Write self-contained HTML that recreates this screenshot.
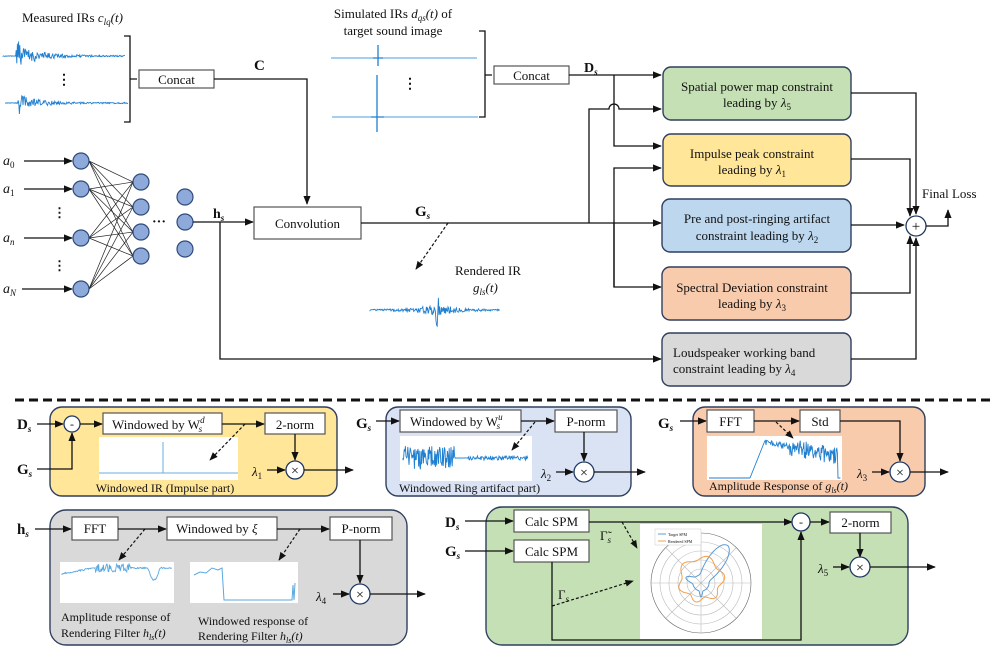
<!DOCTYPE html>
<html><head><meta charset="utf-8"><style>
html,body{margin:0;padding:0;background:#fff}
svg{display:block}
text{font-family:"Liberation Serif",serif;fill:#111}
.b{fill:#fff;stroke:#555;stroke-width:1.2}
.l{stroke:#111;stroke-width:1.3;fill:none}
.d{stroke:#111;stroke-width:1.2;fill:none;stroke-dasharray:3,2}
.nn{fill:#8eaadb;stroke:#2f4a7a;stroke-width:1.2}
.w{fill:none;stroke:#1f7fd0;stroke-width:0.9}
.c{fill:#fff;stroke:#1f3864;stroke-width:1.3}
</style></head><body>
<svg width="997" height="658" viewBox="0 0 997 658" xmlns="http://www.w3.org/2000/svg">
<defs>
<marker id="a" viewBox="0 0 10 10" refX="9" refY="5" markerWidth="7" markerHeight="7" orient="auto"><path d="M0,1 L10,5 L0,9z" fill="#111"/></marker>
</defs>

<!-- top labels -->
<text x="22" y="22" font-size="13">Measured IRs <tspan font-style="italic">c<tspan font-size="9" dy="3">lq</tspan><tspan dy="-3">(t)</tspan></tspan></text>
<path id="w1" class="w" d=""/><path id="w2" class="w" d=""/>
<text x="57" y="84" font-size="14" font-weight="bold">⋮</text>
<path class="l" d="M124,36 H130 V122 H124 M130,79 H137"/>
<rect class="b" x="139" y="70" width="75" height="18"/>
<text x="176.5" y="84" font-size="13" text-anchor="middle">Concat</text>
<path class="l" d="M214,79 H307 V204" marker-end="url(#a)"/>
<text x="254" y="70" font-size="15" font-weight="bold">C</text>

<text x="393" y="18" font-size="13" text-anchor="middle">Simulated IRs <tspan font-style="italic">d<tspan font-size="9" dy="3">qs</tspan><tspan dy="-3">(t)</tspan></tspan> of</text>
<text x="393" y="35" font-size="13" text-anchor="middle">target sound image</text>
<path d="M331,58 H477 M332,117 H478" stroke="#4aa0e0" stroke-width="1"/>
<path d="M378,45 V66 M373,58 H383 M377,75 V132 M371,117 H384" stroke="#1f7fd0" stroke-width="1.3"/>
<text x="403" y="88" font-size="14" font-weight="bold">⋮</text>
<path class="l" d="M479,31 H485 V117 H479 M485,75 H492"/>
<rect class="b" x="494" y="66" width="75" height="18"/>
<text x="531.5" y="80" font-size="13" text-anchor="middle">Concat</text>
<text x="584" y="72" font-size="14" font-weight="bold">D<tspan font-size="9" dy="3" font-style="italic">s</tspan></text>

<!-- NN -->
<g font-size="14" font-style="italic">
<text x="3" y="165">a<tspan font-size="9" dy="3" font-style="normal">0</tspan></text>
<text x="3" y="193">a<tspan font-size="9" dy="3" font-style="normal">1</tspan></text>
<text x="3" y="242">a<tspan font-size="9" dy="3" font-style="italic">n</tspan></text>
<text x="3" y="293">a<tspan font-size="9" dy="3">N</tspan></text>
</g>
<text x="53" y="217" font-size="13" font-weight="bold">⋮</text>
<text x="53" y="270" font-size="13" font-weight="bold">⋮</text>
<g class="l" marker-end="url(#a)">
<path d="M24,161 H72"/><path d="M24,189 H72"/><path d="M24,238 H72"/><path d="M22,289 H72"/>
</g>
<g id="edges" stroke="#222" stroke-width="0.7"></g>
<g id="nodes"></g>
<text x="152" y="226" font-size="14" font-weight="bold">···</text>
<path class="l" d="M193,222 H253" marker-end="url(#a)"/>
<path class="l" d="M220,222 V359 H661" marker-end="url(#a)"/>
<text x="213" y="218" font-size="14" font-weight="bold">h<tspan font-size="9" dy="3" font-style="italic">s</tspan></text>
<rect class="b" x="254" y="207" width="107" height="32"/>
<text x="307.5" y="228" font-size="13" text-anchor="middle">Convolution</text>
<path class="l" d="M361,223 H661" marker-end="url(#a)"/>
<text x="415" y="216" font-size="15" font-weight="bold">G<tspan font-size="9" dy="3" font-style="italic">s</tspan></text>
<path class="d" d="M448,223 L416,269" marker-end="url(#a)"/>
<text x="455" y="275" font-size="13">Rendered IR</text>
<text x="473" y="292" font-size="13" font-style="italic">g<tspan font-size="9" dy="3">ls</tspan><tspan dy="-3">(t)</tspan></text>
<path id="r1" class="w" d=""/>

<!-- routing -->
<path class="l" d="M569,75 H661" marker-end="url(#a)"/>
<path class="l" d="M614,75 V146 H661" marker-end="url(#a)"/>
<path class="l" d="M589,223 V109 H609 A5,5 0 0 1 619,109 H661" marker-end="url(#a)"/>
<path class="l" d="M614,287 V168 H661" marker-end="url(#a)"/>
<path class="l" d="M614,223 V287 H661" marker-end="url(#a)"/>

<!-- constraint boxes -->
<g stroke="#2f3f5f" stroke-width="1.4">
<rect x="663" y="67" width="188" height="53" rx="8" fill="#c5e0b4"/>
<rect x="663" y="134" width="188" height="52" rx="8" fill="#ffe699"/>
<rect x="662" y="199" width="189" height="53" rx="8" fill="#bdd7ee"/>
<rect x="662" y="267" width="189" height="53" rx="8" fill="#f8cbad"/>
<rect x="662" y="333" width="189" height="53" rx="8" fill="#d9d9d9"/>
</g>
<g font-size="13" text-anchor="middle">
<text x="757" y="91">Spatial power map constraint</text>
<text x="757" y="107">leading by <tspan font-style="italic">λ</tspan><tspan font-size="9" dy="3">5</tspan></text>
<text x="752" y="158">Impulse peak constraint</text>
<text x="752" y="174">leading by <tspan font-style="italic">λ</tspan><tspan font-size="9" dy="3">1</tspan></text>
<text x="757" y="223">Pre and post-ringing artifact</text>
<text x="757" y="240">constraint leading by <tspan font-style="italic">λ</tspan><tspan font-size="9" dy="3">2</tspan></text>
<text x="752" y="292">Spectral Deviation constraint</text>
<text x="752" y="308">leading by <tspan font-style="italic">λ</tspan><tspan font-size="9" dy="3">3</tspan></text>
</g>
<text x="673" y="357" font-size="13">Loudspeaker working band</text>
<text x="673" y="373" font-size="13">constraint leading by <tspan font-style="italic">λ</tspan><tspan font-size="9" dy="3">4</tspan></text>

<path class="l" d="M851,93 H916 V214" marker-end="url(#a)"/>
<path class="l" d="M851,159 H910 V216" marker-end="url(#a)"/>
<path class="l" d="M851,225 H904" marker-end="url(#a)"/>
<path class="l" d="M851,293 H910 V236" marker-end="url(#a)"/>
<path class="l" d="M851,359 H916 V238" marker-end="url(#a)"/>
<circle class="c" cx="916" cy="226" r="10"/>
<text x="916" y="231" font-size="15" text-anchor="middle">+</text>
<path class="l" d="M926,226 H948 V210" marker-end="url(#a)"/>
<text x="922" y="198" font-size="13">Final Loss</text>

<!-- separator -->
<path d="M15,400 H992" stroke="#111" stroke-width="3" stroke-dasharray="9,5"/>

<!-- yellow -->
<rect x="50" y="407" width="287" height="89" rx="12" fill="#ffe699" stroke="#2f3f5f" stroke-width="1.4"/>
<text x="17" y="429" font-size="15" font-weight="bold">D<tspan font-size="9" dy="3" font-style="italic">s</tspan></text>
<text x="17" y="474" font-size="15" font-weight="bold">G<tspan font-size="9" dy="3" font-style="italic">s</tspan></text>
<path class="l" d="M37,424 H63" marker-end="url(#a)"/>
<path class="l" d="M37,469 H72 V433" marker-end="url(#a)"/>
<circle class="c" cx="72" cy="424" r="8"/><text x="72" y="428" font-size="12" text-anchor="middle">-</text>
<path class="l" d="M80,424 H102" marker-end="url(#a)"/>
<rect class="b" x="103" y="413" width="119" height="21"/>
<text x="112" y="429" font-size="13">Windowed by W<tspan font-size="9" dy="-6" font-style="italic">d</tspan><tspan font-size="9" dy="9" dx="-6" font-style="italic">s</tspan></text>
<rect class="b" x="265" y="413" width="60" height="21"/>
<text x="295" y="429" font-size="13" text-anchor="middle">2-norm</text>
<path class="l" d="M222,424 H264" marker-end="url(#a)"/>
<rect x="99" y="437" width="139" height="43" fill="#fff"/>
<path d="M99,473 H238 M163,473 V442" stroke="#6aaee0" stroke-width="1"/>
<path class="d" d="M245,424 L210,460" marker-end="url(#a)"/>
<text x="165" y="492" font-size="12" text-anchor="middle">Windowed IR (Impulse part)</text>
<path class="l" d="M295,434 V460" marker-end="url(#a)"/>
<text x="252" y="476" font-size="13" font-style="italic">λ<tspan font-size="9" dy="3" font-style="normal">1</tspan></text>
<path class="l" d="M267,470 H285" marker-end="url(#a)"/>
<circle class="c" cx="295" cy="470" r="9"/><text x="295" y="475" font-size="14" text-anchor="middle">×</text>
<path class="l" d="M304,470 H353" marker-end="url(#a)"/>

<!-- blue -->
<rect x="386" y="407" width="245" height="89" rx="12" fill="#dae3f3" stroke="#2f3f5f" stroke-width="1.4"/>
<text x="356" y="428" font-size="15" font-weight="bold">G<tspan font-size="9" dy="3" font-style="italic">s</tspan></text>
<path class="l" d="M376,421 H399" marker-end="url(#a)"/>
<rect class="b" x="400" y="410" width="121" height="22"/>
<text x="410" y="426" font-size="13">Windowed by W<tspan font-size="9" dy="-6" font-style="italic">u</tspan><tspan font-size="9" dy="9" dx="-6" font-style="italic">s</tspan></text>
<rect class="b" x="555" y="410" width="62" height="22"/>
<text x="586" y="426" font-size="13" text-anchor="middle">P-norm</text>
<path class="l" d="M521,421 H554" marker-end="url(#a)"/>
<rect x="400" y="436" width="132" height="45" fill="#fff"/>
<path id="b1" class="w" d=""/>
<path class="d" d="M535,422 L512,450" marker-end="url(#a)"/>
<text x="399" y="492" font-size="12">Windowed Ring artifact part)</text>
<path class="l" d="M584,432 V461" marker-end="url(#a)"/>
<text x="541" y="478" font-size="13" font-style="italic">λ<tspan font-size="9" dy="3" font-style="normal">2</tspan></text>
<path class="l" d="M556,472 H573" marker-end="url(#a)"/>
<circle class="c" cx="584" cy="472" r="10"/><text x="584" y="477" font-size="14" text-anchor="middle">×</text>
<path class="l" d="M594,472 H645" marker-end="url(#a)"/>

<!-- orange -->
<rect x="693" y="407" width="232" height="89" rx="12" fill="#f8cbad" stroke="#2f3f5f" stroke-width="1.4"/>
<text x="658" y="428" font-size="15" font-weight="bold">G<tspan font-size="9" dy="3" font-style="italic">s</tspan></text>
<path class="l" d="M680,421 H706" marker-end="url(#a)"/>
<rect class="b" x="707" y="410" width="47" height="22"/>
<text x="730.5" y="426" font-size="13" text-anchor="middle">FFT</text>
<rect class="b" x="800" y="410" width="40" height="22"/>
<text x="820" y="426" font-size="13" text-anchor="middle">Std</text>
<path class="l" d="M754,421 H799" marker-end="url(#a)"/>
<path class="l" d="M840,421 H900 V461" marker-end="url(#a)"/>
<rect x="707" y="436" width="135" height="44" fill="#fff"/>
<path id="o1" class="w" d=""/>
<path class="d" d="M776,422 L793,438" marker-end="url(#a)"/>
<text x="709" y="490" font-size="12">Amplitude Response of <tspan font-style="italic">g<tspan font-size="8" dy="3">ls</tspan><tspan dy="-3">(t)</tspan></tspan></text>
<text x="857" y="478" font-size="13" font-style="italic">λ<tspan font-size="9" dy="3" font-style="normal">3</tspan></text>
<path class="l" d="M872,472 H889" marker-end="url(#a)"/>
<circle class="c" cx="900" cy="472" r="10"/><text x="900" y="477" font-size="14" text-anchor="middle">×</text>
<path class="l" d="M910,472 H948" marker-end="url(#a)"/>

<!-- gray -->
<rect x="50" y="510" width="357" height="135" rx="16" fill="#d9d9d9" stroke="#2f3f5f" stroke-width="1.4"/>
<text x="17" y="534" font-size="15" font-weight="bold">h<tspan font-size="9" dy="3" font-style="italic">s</tspan></text>
<path class="l" d="M35,529 H71" marker-end="url(#a)"/>
<rect class="b" x="72" y="517" width="46" height="23"/>
<text x="95" y="533" font-size="13" text-anchor="middle">FFT</text>
<rect class="b" x="167" y="517" width="110" height="23"/>
<text x="176" y="533" font-size="13">Windowed by <tspan font-style="italic">ξ</tspan></text>
<rect class="b" x="330" y="517" width="62" height="23"/>
<text x="361" y="533" font-size="13" text-anchor="middle">P-norm</text>
<path class="l" d="M118,529 H166" marker-end="url(#a)"/>
<path class="l" d="M277,529 H329" marker-end="url(#a)"/>
<path class="d" d="M145,529 L119,560" marker-end="url(#a)"/>
<path class="d" d="M300,529 L279,560" marker-end="url(#a)"/>
<rect x="60" y="562" width="114" height="41" fill="#fff"/>
<rect x="190" y="562" width="108" height="41" fill="#fff"/>
<path id="g1" class="w" d="" style="stroke:#5aa8e0"/>
<path d="M194,575 L200,572 L206,573 L212,568 L218,570 L222,568 L224,600 L292,600 L293,585 L294,600 L295,583" fill="none" stroke="#5aa8e0" stroke-width="1"/>
<text x="61" y="621" font-size="12">Amplitude response of</text>
<text x="61" y="637" font-size="12">Rendering Filter <tspan font-style="italic">h<tspan font-size="8" dy="3">ls</tspan><tspan dy="-3">(t)</tspan></tspan></text>
<text x="198" y="625" font-size="12">Windowed response of</text>
<text x="198" y="640" font-size="12">Rendering Filter <tspan font-style="italic">h<tspan font-size="8" dy="3">ls</tspan><tspan dy="-3">(t)</tspan></tspan></text>
<path class="l" d="M360,540 V583" marker-end="url(#a)"/>
<text x="316" y="601" font-size="13" font-style="italic">λ<tspan font-size="9" dy="3" font-style="normal">4</tspan></text>
<path class="l" d="M333,594 H349" marker-end="url(#a)"/>
<circle class="c" cx="360" cy="594" r="10"/><text x="360" y="599" font-size="14" text-anchor="middle">×</text>
<path class="l" d="M370,594 H425" marker-end="url(#a)"/>

<!-- green -->
<rect x="486" y="507" width="422" height="138" rx="16" fill="#c5e0b4" stroke="#2f3f5f" stroke-width="1.4"/>
<text x="445" y="527" font-size="15" font-weight="bold">D<tspan font-size="9" dy="3" font-style="italic">s</tspan></text>
<text x="445" y="556" font-size="15" font-weight="bold">G<tspan font-size="9" dy="3" font-style="italic">s</tspan></text>
<path class="l" d="M465,521 H513" marker-end="url(#a)"/>
<path class="l" d="M465,551 H513" marker-end="url(#a)"/>
<rect class="b" x="514" y="510" width="75" height="22"/>
<text x="551.5" y="526" font-size="13" text-anchor="middle">Calc SPM</text>
<rect class="b" x="514" y="540" width="75" height="22"/>
<text x="551.5" y="556" font-size="13" text-anchor="middle">Calc SPM</text>
<path class="l" d="M589,522 H792" marker-end="url(#a)"/>
<text x="600" y="540" font-size="13">Γ̃<tspan font-size="9" dy="3" font-style="italic">s</tspan></text>
<path class="d" d="M622,522 L637,548" marker-end="url(#a)"/>
<rect x="640" y="524" width="122" height="115" fill="#fff"/>
<g fill="none" stroke="#bbb" stroke-width="0.6">
<circle cx="701" cy="583" r="50" stroke="#666"/><circle cx="701" cy="583" r="41"/><circle cx="701" cy="583" r="32"/><circle cx="701" cy="583" r="23"/><circle cx="701" cy="583" r="14"/>
<path d="M701,533 V633 M651,583 H751 M666,548 L736,618 M736,548 L666,618"/>
</g>
<path id="pb" d="" fill="none" stroke="#5b9bd5" stroke-width="1"/>
<path id="po" d="" fill="none" stroke="#f5a04a" stroke-width="1"/>
<rect x="655" y="529" width="46" height="16" fill="#fff" stroke="#ccc" stroke-width="0.5"/>
<path d="M658,534 H666" stroke="#5b9bd5"/><path d="M658,541 H666" stroke="#f5a04a"/>
<text x="668" y="536" font-size="4" font-family="Liberation Sans">Target SPM</text>
<text x="668" y="543" font-size="4" font-family="Liberation Sans">Rendered SPM</text>
<path class="l" d="M552,562 V640 H801 V532" marker-end="url(#a)"/>
<text x="558" y="599" font-size="13">Γ<tspan font-size="9" dy="3" font-style="italic">s</tspan></text>
<path class="d" d="M552,606 L633,581" marker-end="url(#a)"/>
<circle class="c" cx="801" cy="522" r="9"/><text x="801" y="526" font-size="12" text-anchor="middle">-</text>
<path class="l" d="M810,522 H829" marker-end="url(#a)"/>
<rect class="b" x="830" y="512" width="61" height="21"/>
<text x="860.5" y="527" font-size="13" text-anchor="middle">2-norm</text>
<path class="l" d="M860,533 V557" marker-end="url(#a)"/>
<text x="818" y="573" font-size="13" font-style="italic">λ<tspan font-size="9" dy="3" font-style="normal">5</tspan></text>
<path class="l" d="M833,567 H849" marker-end="url(#a)"/>
<circle class="c" cx="860" cy="567" r="10"/><text x="860" y="572" font-size="14" text-anchor="middle">×</text>
<path class="l" d="M870,567 H935" marker-end="url(#a)"/>
</svg>
<script>
(function(){
var seed=12345;function R(){seed=(seed*16807)%2147483647;return seed/2147483647-0.5;}
for(var i=0;i<30;i++)R();
function wave(id,x0,x1,y,spike,amp,decay){var d="M"+x0+","+y;for(var x=x0;x<=x1;x+=0.6){var t=x-spike;var a;if(t<-1)a=0.3;else if(t<3)a=amp*1.5;else a=amp*Math.exp(-t/decay)+0.6;d+=" L"+x.toFixed(1)+","+(y+R()*2*a).toFixed(1);}document.getElementById(id).setAttribute("d",d);}
wave("w1",3,125,56,17,11,22);wave("w2",5,128,103,19,8,20);
var d="M370,310";for(var x=370;x<=500;x+=0.6){var t=Math.abs(x-437);var a=6*Math.exp(-t/18)+0.6;if(t<2)a=18;d+=" L"+x.toFixed(1)+","+(310+R()*2*a).toFixed(1);}document.getElementById("r1").setAttribute("d",d);
d="M403,458";for(x=403;x<=528;x+=0.6){var a=x<455?12:(x<468?0.2:2.2);d+=" L"+x.toFixed(1)+","+(458+R()*2*a).toFixed(1);}document.getElementById("b1").setAttribute("d",d);
d="M709,478";for(x=709;x<=841;x+=0.6){var y;if(x<750)y=478;else if(x<765)y=478-(x-750)*2.5;else if(x<838){y=442+(x-765)*0.2+R()*(x>790?18:6);}else y=478;d+=" L"+x.toFixed(1)+","+y.toFixed(1);}document.getElementById("o1").setAttribute("d",d);
d="M62,575";for(x=62;x<=172;x+=0.6){var y=574-(x<95?(x-62)*0.2:6)+(x>95&&x<130?R()*8:R()*1.5);if(x>148&&x<160)y+=Math.sin((x-148)/12*Math.PI)*12;d+=" L"+x.toFixed(1)+","+y.toFixed(1);}document.getElementById("g1").setAttribute("d",d);
// polar
var cx=701,cy=583,pb="",po="";
for(var k=0;k<=360;k+=3){var th=k*Math.PI/180;
var lobe=Math.exp(-Math.pow(((k-35+540)%360-180)/22,2));
var r=8+38*lobe+6*Math.exp(-Math.pow(((k-180+540)%360-180)/8,2))+8*Math.exp(-Math.pow(((k-290+540)%360-180)/15,2));
var X=cx+r*Math.sin(th),Y=cy-r*Math.cos(th);pb+=(k?" L":"M")+X.toFixed(1)+","+Y.toFixed(1);
var r2=21+2.5*Math.sin(th*6)+4*Math.cos(th);var X2=cx+r2*Math.sin(th),Y2=cy-r2*Math.cos(th);po+=(k?" L":"M")+X2.toFixed(1)+","+Y2.toFixed(1);}
document.getElementById("pb").setAttribute("d",pb);document.getElementById("po").setAttribute("d",po);
var L1=[161,189,238,289],L2=[182,207,232,256],L3=[197,222,249];var e=document.getElementById("edges"),n=document.getElementById("nodes"),ns="http://www.w3.org/2000/svg";
L1.forEach(function(a){L2.forEach(function(b){var l=document.createElementNS(ns,"line");l.setAttribute("x1",89);l.setAttribute("y1",a);l.setAttribute("x2",133);l.setAttribute("y2",b);e.appendChild(l);});});
function c(x,y){var k=document.createElementNS(ns,"circle");k.setAttribute("cx",x);k.setAttribute("cy",y);k.setAttribute("r",8);k.setAttribute("class","nn");n.appendChild(k);}
L1.forEach(function(y){c(81,y)});L2.forEach(function(y){c(141,y)});L3.forEach(function(y){c(185,y)});
})();
</script>
</body></html>
